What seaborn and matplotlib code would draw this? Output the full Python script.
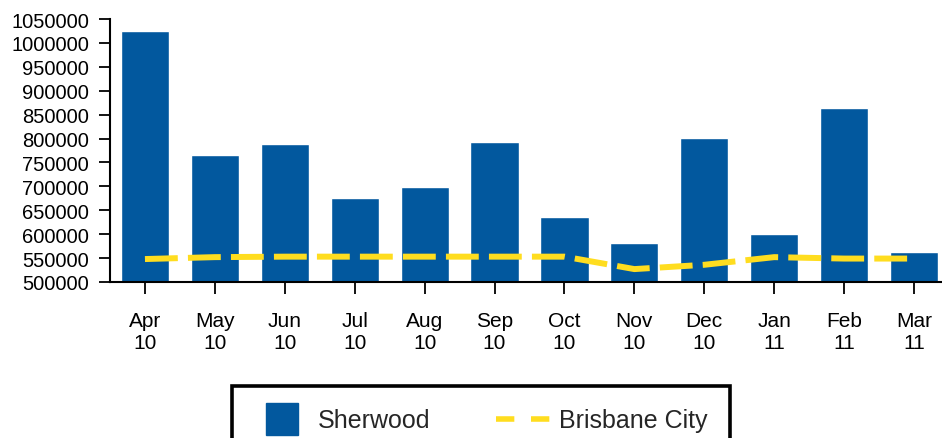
import numpy as np
import pandas as pd
import matplotlib
matplotlib.use('Agg')
import matplotlib.pyplot as plt
import seaborn as sns
from matplotlib.lines import Line2D

# Données
months = ['Apr', 'May', 'Jun', 'Jul', 'Aug', 'Sep', 'Oct', 'Nov', 'Dec', 'Jan', 'Feb', 'Mar']
years = ['10', '10', '10', '10', '10', '10', '10', '10', '10', '11', '11', '11']
sherwood = [1025000, 766000, 788000, 676000, 698000, 792000, 635000, 582000, 802000, 600000, 864000, 563000]
brisbane = [548000, 552000, 553000, 553000, 553000, 553000, 553000, 527000, 536000, 552000, 549000, 549000]
y_ticks = list(range(500000, 1050001, 50000))

BLUE = '#02589E'
YELLOW = '#FFDD1F'

df = pd.DataFrame({'label': [f'{m}\n{y}' for m, y in zip(months, years)],
                   'Sherwood': sherwood, 'Brisbane City': brisbane})
df['pos'] = df.index

sns.set_style('white')
plt.rcParams['font.family'] = ['Liberation Sans', 'DejaVu Sans']

fig = plt.figure(figsize=(9.42, 4.39), dpi=100)
ax = fig.add_axes([110 / 942, 156 / 439, 839 / 942, 263 / 439])

sns.barplot(data=df, x='pos', y='Sherwood', color=BLUE, width=0.69,
            saturation=1, ax=ax)
sns.lineplot(data=df, x='pos', y='Brisbane City', color=YELLOW, lw=4.3, ax=ax)
ax.lines[-1].set_dashes((5.5, 1.7))

ax.set_xlim(-0.5, len(months) - 0.5)
ax.set_ylim(500000, 1050000)
ax.set_yticks(y_ticks)
ax.set_yticklabels([str(v) for v in y_ticks], fontsize=14.5)
ax.set_xticks(range(len(months)))
ax.set_xticklabels(df['label'], fontsize=15, linespacing=1.2)
ax.set_xlabel('')
ax.set_ylabel('')

for s in ['top', 'right']:
    ax.spines[s].set_visible(False)
for s in ['left', 'bottom']:
    ax.spines[s].set_linewidth(1.5)
    ax.spines[s].set_color('black')
ax.tick_params(axis='y', direction='out', length=8, width=1.3, pad=7, left=True, colors='black')
ax.tick_params(axis='x', direction='out', length=8.6, width=1.3, pad=12, bottom=True, colors='black')
ax.grid(False)

# Légende sous le graphique
handles = [Line2D([], [], marker='s', markersize=23, color=BLUE, linestyle='none'),
           Line2D([], [], color=YELLOW, lw=4, dashes=(3.3, 3.0))]
leg = fig.legend(handles, ['Sherwood', 'Brisbane City'], loc='upper center',
                 bbox_to_anchor=(481 / 942, 1 - 387 / 439), ncol=2, fontsize=18,
                 frameon=True, fancybox=False, framealpha=1, handlelength=2.2,
                 handletextpad=0.3, columnspacing=2.65, borderpad=0.9, borderaxespad=0)
leg.get_frame().set_edgecolor('black')
leg.get_frame().set_linewidth(2.6)

fig.savefig('out.png', dpi=100)
